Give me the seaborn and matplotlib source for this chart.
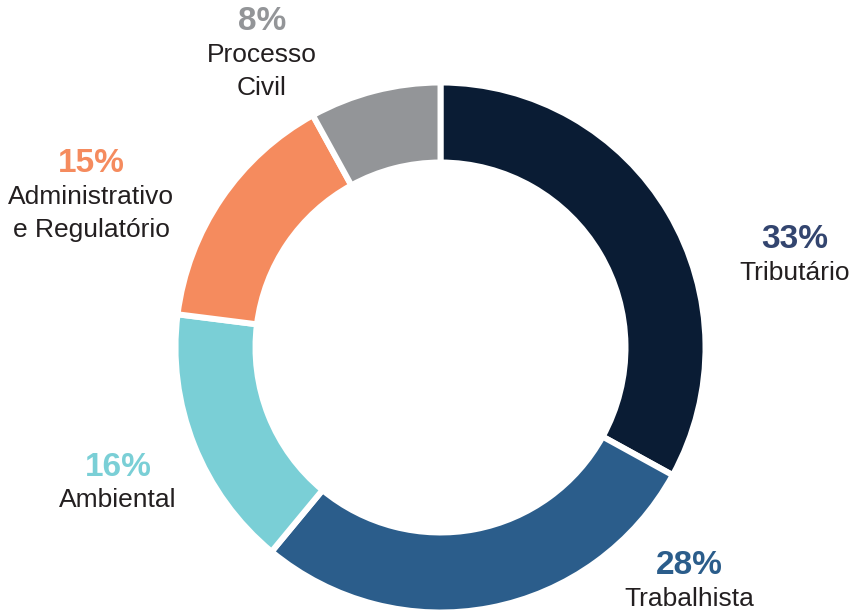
import matplotlib.pyplot as plt
import seaborn as sns

# data (clockwise from 12 o'clock)
categories = ['Tributário', 'Trabalhista', 'Ambiental',
              'Administrativo\ne Regulatório', 'Processo\nCivil']
shares = [33, 28, 16, 15, 8]
colors = ['#0A1C34', '#2B5D8B', '#7ACFD6', '#F58B5E', '#939598']
pct_colors = ['#33456F', '#2B5D8B', '#7ACFD6', '#F58B5E', '#939598']

# label anchors (pixel coordinates in the 853x615 picture)
label_xy = [(795, 240), (689, 566), (118, 467), (91, 164), (262, 22)]

sns.set_theme(style='white')
plt.rcParams['font.family'] = ['Liberation Sans', 'DejaVu Sans']

W, H = 853, 615
fig = plt.figure(figsize=(W / 100, H / 100), dpi=100)
ax = fig.add_axes([0, 0, 1, 1])

cx, cy, r = 440.5, H - 347.5, 265
ax.pie(shares, colors=colors, startangle=90, counterclock=False,
       center=(cx, cy), radius=r, frame=True,
       wedgeprops=dict(width=80, edgecolor='white', linewidth=4.3))
ax.set_xlim(0, W)
ax.set_ylim(0, H)
ax.set_aspect('equal')
ax.axis('off')

text_col = '#231F20'
for cat, val, pc, (x, y) in zip(categories, shares, pct_colors, label_xy):
    ax.text(x, H - y, f'{val}%', color=pc, fontsize=24, fontweight='bold',
            ha='center', va='center')
    for i, line in enumerate(cat.split('\n')):
        ax.text(x, H - y - 33 - 33 * i, line, color=text_col, fontsize=19,
                ha='center', va='center')

fig.savefig('out.png', dpi=100)
